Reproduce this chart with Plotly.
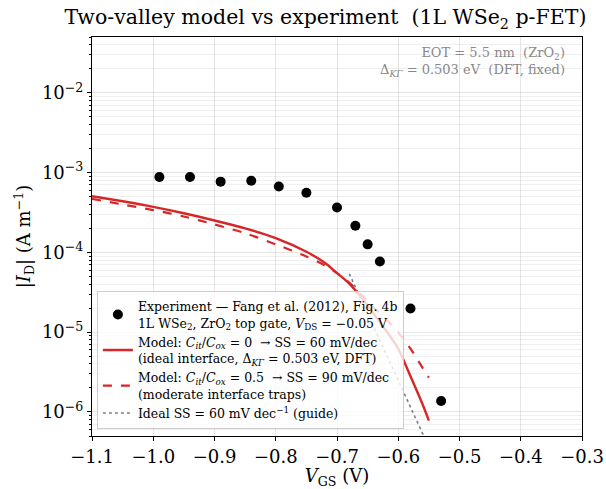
import numpy as np
import plotly.graph_objects as go

# ---- data ----
exp_vgs = [-0.99, -0.94, -0.89, -0.84, -0.795, -0.75, -0.70, -0.67, -0.65, -0.63, -0.58, -0.53]
exp_id = [8.8e-4, 8.8e-4, 7.7e-4, 7.9e-4, 6.7e-4, 5.6e-4, 3.65e-4, 2.16e-4, 1.26e-4, 7.7e-5, 1.98e-5, 1.37e-6]

model_vgs = [-1.10, -1.05, -1.00, -0.95, -0.90, -0.85, -0.80, -0.75, -0.72, -0.70,
             -0.68, -0.66, -0.64, -0.62, -0.60, -0.58, -0.56, -0.55]
model_ideal = [5.06e-4, 4.37e-4, 3.72e-4, 3.09e-4, 2.51e-4, 2.0e-4, 1.51e-4, 1.02e-4, 7.4e-5, 5.5e-5,
               4.07e-5, 2.72e-5, 1.70e-5, 1.05e-5, 6.2e-6, 2.8e-6, 1.23e-6, 7.8e-7]
model_traps = [4.68e-4, 3.98e-4, 3.39e-4, 2.82e-4, 2.24e-4, 1.74e-4, 1.26e-4, 8.9e-5, 6.9e-5, 5.5e-5,
               4.17e-5, 2.95e-5, 2.04e-5, 1.45e-5, 1.0e-5, 6.2e-6, 3.55e-6, 2.7e-6]

guide_vgs = [-0.68, -0.555]
guide_id = [5.4e-5, 4.4e-7]

x_ticks = [-1.1, -1.0, -0.9, -0.8, -0.7, -0.6, -0.5, -0.4, -0.3]
x_ticktext = ["−1.1", "−1.0", "−0.9", "−0.8", "−0.7", "−0.6", "−0.5", "−0.4", "−0.3"]
y_exps = [-6, -5, -4, -3, -2]

FONT = "DejaVu Serif"
RED = "#d62728"

fig = go.Figure()

fig.add_trace(go.Scatter(
    x=guide_vgs, y=guide_id, mode="lines",
    line=dict(color="gray", width=1.6, dash="dot"),
    name="Ideal SS = 60 mV dec<sup>−1</sup> (guide)", legendrank=4))
fig.add_trace(go.Scatter(
    x=model_vgs, y=model_traps, mode="lines",
    line=dict(color=RED, width=2.2, dash="dash", shape="spline", smoothing=0.8),
    name="Model: <i>C<sub>it</sub></i>/<i>C<sub>ox</sub></i> = 0.5  → SS = 90 mV/dec<br>(moderate interface traps)",
    legendrank=3))
fig.add_trace(go.Scatter(
    x=model_vgs, y=model_ideal, mode="lines",
    line=dict(color=RED, width=2.4, shape="spline", smoothing=0.8),
    name="Model: <i>C<sub>it</sub></i>/<i>C<sub>ox</sub></i> = 0  → SS = 60 mV/dec<br>(ideal interface, Δ<sub><i>KΓ</i></sub> = 0.503 eV, DFT)",
    legendrank=2))
fig.add_trace(go.Scatter(
    x=exp_vgs, y=exp_id, mode="markers",
    marker=dict(color="black", size=10),
    name="Experiment — Fang et al. (2012), Fig. 4b<br>1L WSe<sub>2</sub>, ZrO<sub>2</sub> top gate, <i>V</i><sub>DS</sub> = −0.05 V",
    legendrank=1))

minor_vals = [m * 10.0 ** e for e in range(-7, -1) for m in range(2, 10)]

fig.update_layout(
    width=606, height=489,
    margin=dict(l=92, r=24, t=37, b=53),
    paper_bgcolor="white", plot_bgcolor="white",
    font=dict(family=FONT, color="black", size=14),
    title=dict(text="Two-valley model vs experiment  (1L WSe<sub>2</sub> p-FET)",
               x=0.537, xanchor="center", y=0.965, yanchor="middle",
               font=dict(size=20.5, family=FONT)),
    showlegend=True,
    legend=dict(x=0.01, y=0.018, xanchor="left", yanchor="bottom",
                bgcolor="rgba(255,255,255,0.8)", bordercolor="#cccccc", borderwidth=1,
                font=dict(size=12.5, family=FONT), tracegroupgap=0,
                itemwidth=30),
    xaxis=dict(range=[-1.1, -0.3], tickvals=x_ticks, ticktext=x_ticktext,
               automargin=False,
               showline=True, linecolor="black", linewidth=1, mirror=True,
               ticks="outside", ticklen=4, tickcolor="black",
               showgrid=True, gridcolor="rgba(0,0,0,0.10)", gridwidth=1,
               zeroline=False, tickfont=dict(size=18),
               title=dict(text="<i>V</i><sub>GS</sub> (V)", font=dict(size=18), standoff=6)),
    yaxis=dict(type="log", range=[np.log10(5e-7), np.log10(5e-2)],
               automargin=False,
               tickvals=[10.0 ** e for e in y_exps],
               ticktext=["10<sup>−%d</sup>" % (-e) for e in y_exps],
               showline=True, linecolor="black", linewidth=1, mirror=True,
               ticks="outside", ticklen=4, tickcolor="black",
               showgrid=True, gridcolor="rgba(0,0,0,0.10)", gridwidth=1,
               zeroline=False, tickfont=dict(size=18),
               minor=dict(tickvals=minor_vals, ticks="outside", ticklen=2.5, tickcolor="black",
                          showgrid=True, gridcolor="rgba(0,0,0,0.06)", gridwidth=1),
               title=dict(text="|<i>I</i><sub>D</sub>| (A m<sup>−1</sup>)", font=dict(size=18), standoff=6)),
)

fig.add_annotation(
    xref="paper", yref="paper", x=0.969, y=0.985, xanchor="right", yanchor="top",
    align="right", showarrow=False,
    text="EOT = 5.5 nm  (ZrO<sub>2</sub>)<br>Δ<sub><i>KΓ</i></sub> = 0.503 eV  (DFT, fixed)",
    font=dict(size=13, color="#888888", family=FONT))

fig.write_html("out.html")
